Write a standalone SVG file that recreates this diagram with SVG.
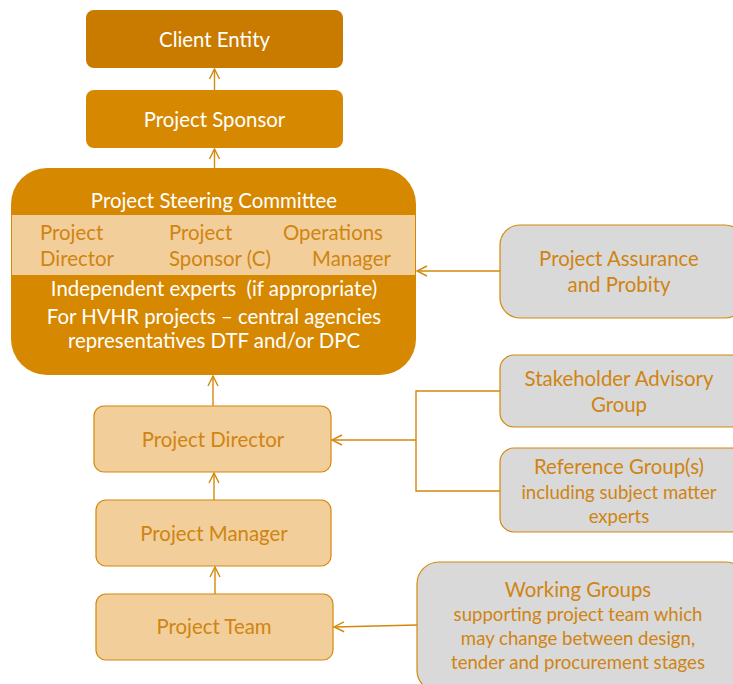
<svg xmlns="http://www.w3.org/2000/svg" width="733" height="684" viewBox="0 0 733 684">
  <style>
    text { font-family: Lato, "Open Sans", "Liberation Sans", sans-serif; text-anchor: middle; }
    .w { fill: #ffffff; font-size: 20.4px; }
    .o { fill: #D08411; font-size: 20.4px; }
    .os { fill: #D08411; font-size: 18.6px; }
    .l { text-anchor: start; }
    .dark { fill: #C97B00; }
    .mid { fill: #D68800; }
    .light { fill: #F2CF9A; stroke: #D4880A; stroke-width: 1.2; }
    .grey { fill: #D9D9D9; stroke: #D4880A; stroke-width: 1.2; }
    .conn { fill: none; stroke: #D4880A; stroke-width: 1.4; }
  </style>
  <defs>
    <marker id="arrow" viewBox="0 0 12 12" refX="11" refY="6" markerWidth="12" markerHeight="12" markerUnits="userSpaceOnUse" orient="auto">
      <path d="M1,1 L11,6 L1,11" fill="none" stroke="#D4880A" stroke-width="1.4"/>
    </marker>
  </defs>

  <g id="client-entity">
    <rect class="dark" x="86" y="10" width="257" height="58" rx="8"/>
    <text class="w" x="214.5" y="47">Client Entity</text>
  </g>

  <g id="project-sponsor">
    <rect class="mid" x="86" y="90" width="257" height="58" rx="8"/>
    <text class="w" x="214.5" y="127">Project Sponsor</text>
  </g>

  <g id="steering-committee">
    <rect class="mid" x="11" y="168" width="405" height="207" rx="36"/>
    <rect x="12" y="215" width="403" height="60" fill="#F2CF9A"/>
    <text class="w" x="214" y="208">Project Steering Committee</text>
    <text class="o l" x="40" y="240">Project</text>
    <text class="o l" x="40" y="266">Director</text>
    <text class="o l" x="169" y="240">Project</text>
    <text class="o l" x="169" y="266">Sponsor (C)</text>
    <text class="o l" x="283" y="240">Operations</text>
    <text class="o l" x="312" y="266">Manager</text>
    <text class="w" x="214" y="296" xml:space="preserve" style="white-space:pre">Independent experts  (if appropriate)</text>
    <text class="w" x="214" y="324">For HVHR projects – central agencies</text>
    <text class="w" x="214" y="348">representatives DTF and/or DPC</text>
  </g>

  <g id="project-assurance">
    <rect class="grey" x="500" y="225" width="245" height="93" rx="20"/>
    <text class="o" x="619" y="266">Project Assurance</text>
    <text class="o" x="619" y="292">and Probity</text>
  </g>

  <g id="stakeholder-advisory">
    <rect class="grey" x="500" y="355" width="245" height="72" rx="14"/>
    <text class="o" x="619" y="386">Stakeholder Advisory</text>
    <text class="o" x="619" y="412">Group</text>
  </g>

  <g id="reference-groups">
    <rect class="grey" x="500" y="448" width="245" height="84" rx="14"/>
    <text class="o" x="619" y="474">Reference Group(s)</text>
    <text class="os" x="619" y="499">including subject matter</text>
    <text class="os" x="619" y="523">experts</text>
  </g>

  <g id="project-director">
    <rect class="light" x="94" y="406" width="237" height="66" rx="10"/>
    <text class="o" x="213" y="447">Project Director</text>
  </g>

  <g id="project-manager">
    <rect class="light" x="96" y="500" width="235" height="66" rx="10"/>
    <text class="o" x="214" y="541">Project Manager</text>
  </g>

  <g id="project-team">
    <rect class="light" x="96" y="594" width="237" height="66" rx="10"/>
    <text class="o" x="214" y="634">Project Team</text>
  </g>

  <g id="working-groups">
    <rect class="grey" x="417" y="562" width="330" height="130" rx="22"/>
    <text class="o" x="578" y="597">Working Groups</text>
    <text class="os" x="578" y="621">supporting project team which</text>
    <text class="os" x="578" y="645">may change between design,</text>
    <text class="os" x="578" y="669">tender and procurement stages</text>
  </g>

  <g id="connectors">
    <line class="conn" x1="214.5" y1="90" x2="214.5" y2="69" marker-end="url(#arrow)"/>
    <line class="conn" x1="214.5" y1="168" x2="214.5" y2="149" marker-end="url(#arrow)"/>
    <line class="conn" x1="213" y1="406" x2="213" y2="376" marker-end="url(#arrow)"/>
    <line class="conn" x1="214" y1="500" x2="214" y2="473" marker-end="url(#arrow)"/>
    <line class="conn" x1="215" y1="594" x2="215" y2="567" marker-end="url(#arrow)"/>
    <line class="conn" x1="500" y1="271" x2="417" y2="271" marker-end="url(#arrow)"/>
    <path class="conn" d="M500,391 H416 V491 H500"/>
    <line class="conn" x1="416" y1="440" x2="332" y2="440" marker-end="url(#arrow)"/>
    <line class="conn" x1="417" y1="625" x2="334" y2="627" marker-end="url(#arrow)"/>
  </g>
</svg>
